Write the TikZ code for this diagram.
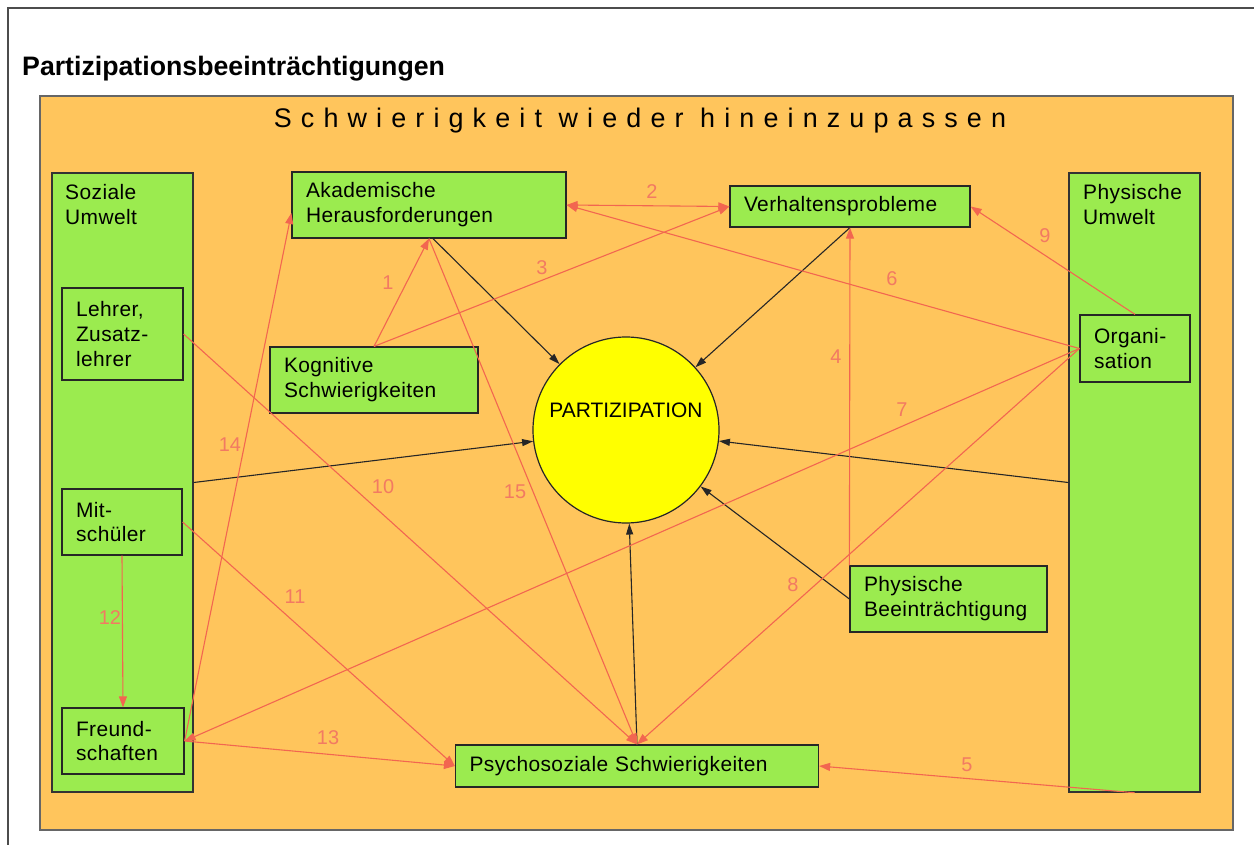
\documentclass[tikz,border=0pt]{standalone}
\usepackage{fontspec}
\setmainfont{Liberation Sans}
\usetikzlibrary{arrows.meta,calc}
\definecolor{orangebg}{HTML}{FFC55C}
\definecolor{greenbox}{HTML}{9BEB4F}
\definecolor{redline}{HTML}{F26650}
\definecolor{redlabel}{HTML}{F27A62}
\definecolor{yellowc}{HTML}{FFFF00}
\hyphenpenalty=10000
\begin{document}
\begin{tikzpicture}[x=1bp,y=-1bp,
  gbox/.style={draw=black!85, line width=1.2bp, fill=greenbox, inner xsep=14bp, inner ysep=0bp,
    align=left, font=\fontsize{21}{25}\selectfont\addfontfeature{LetterSpace=2}},
  bigbox/.style={draw=black!80, line width=1.4bp, fill=greenbox, inner sep=0bp},
  boxtext/.style={inner sep=0bp, align=left, anchor=north west, font=\fontsize{21}{25}\selectfont\addfontfeature{LetterSpace=2}},
  redarrow/.style={draw=redline, line width=1.1bp, -{Triangle[length=11bp,width=8bp]}},
  blackarrow/.style={draw=black!85, line width=1.1bp, -{Triangle[length=11bp,width=7bp]}},
  num/.style={text=redlabel, font=\fontsize{20}{24}\selectfont, inner sep=0bp}
]
\useasboundingbox (0,0) rectangle (1254,845);
% outer frame
\draw[black!70, line width=1.5bp] (8,845) -- (8,8) -- (1254,8);
\node[anchor=base west, inner sep=0bp, font=\fontsize{26.8}{30}\selectfont\bfseries] (title) at (22,75) {Partizipationsbeeinträchtigungen};
% orange area
\node[draw=black!60, line width=1.5bp, fill=orangebg, minimum width=1193bp, minimum height=734bp, inner sep=0bp] (bg) at (636.5,463) {};
\node[inner sep=0bp, font=\fontsize{27}{30}\selectfont\addfontfeature{LetterSpace=34}] (head) at (640,121) {Schwierigkeit wieder hineinzupassen};
% big boxes
\node[bigbox, minimum width=141bp, minimum height=619bp] (soz) at (122.5,482.5) {};
\node[boxtext] (sozt) at (65,184) {Soziale\\Umwelt};
\node[bigbox, minimum width=131bp, minimum height=619bp] (pum) at (1134.5,482.5) {};
\node[boxtext] (pumt) at (1083,184) {Physische\\Umwelt};
% small boxes
\node[gbox, text width=246bp, minimum height=66bp] (akad) at (429,205) {Akademische\\Herausforderungen};
\node[gbox, text width=212bp, minimum height=41bp] (verh) at (850,206.5) {Verhaltensprobleme};
\node[gbox, text width=180bp, minimum height=66bp] (kogn) at (374,380) {Kognitive\\Schwierigkeiten};
\node[gbox, text width=93bp, minimum height=92bp] (lehrer) at (122.5,334) {Lehrer,\\Zusatz-\\lehrer};
\node[gbox, text width=92bp, minimum height=66bp] (mit) at (122,522) {Mit-\\schüler};
\node[gbox, text width=94bp, minimum height=66bp] (freund) at (123,741) {Freund-\\schaften};
\node[gbox, text width=82bp, minimum height=67bp] (org) at (1135,348.5) {Organi-\\sation};
\node[gbox, text width=169bp, minimum height=66bp] (phb) at (948.5,599) {Physische\\Beeinträchtigung};
\node[gbox, text width=335bp, minimum height=42bp] (psy) at (637,766) {Psychosoziale Schwierigkeiten};
% circle
\node[circle, draw=black!85, line width=1.2bp, fill=yellowc, minimum size=186bp, inner sep=0bp] (part) at (626,430) {};
\node[inner sep=0bp, font=\fontsize{21}{25}\selectfont] (partt) at (626,410) {PARTIZIPATION};
% black arrows
\draw[blackarrow] ($(akad.south)+(4,0)$) -- (part);
\draw[blackarrow] (verh.south) -- (part);
\draw[blackarrow] (soz.east) -- (part);
\draw[blackarrow] (pum.west) -- (part);
\draw[blackarrow] (phb.west) -- (part);
\draw[blackarrow] (psy.north) -- (part);
% red arrows
\draw[redarrow] (kogn.north) -- (akad.south);
\draw[redarrow, {Triangle[length=11bp,width=8bp]}-{Triangle[length=11bp,width=8bp]}] (akad.east) -- (verh.west);
\draw[redarrow] (kogn.north) -- (verh.west);
\draw[redarrow] (phb.north west) -- (verh.south);
\draw[redarrow] (pum.south) -- (psy.east);
\draw[redarrow] (org.west) -- (akad.east);
\draw[redarrow] (org.west) -- (freund.east);
\draw[redarrow] (org.west) -- (psy.north);
\draw[redarrow] (org.north) -- (verh.east);
\draw[redarrow] (lehrer.east) -- (psy.north);
\draw[redarrow] (mit.east) -- (psy.west);
\draw[redarrow] (mit.south) -- (freund.north);
\draw[redarrow] (freund.east) -- (psy.west);
\draw[redarrow] (freund.east) -- ($(akad.west)+(0,8)$);
\draw[redarrow] (akad.south) -- (psy.north);
% labels
\node[num] (n1) at (388,283) {1};
\node[num] (n2) at (652,192) {2};
\node[num] (n3) at (542,268) {3};
\node[num] (n4) at (836,357) {4};
\node[num] (n5) at (967,765) {5};
\node[num] (n6) at (892,279) {6};
\node[num] (n7) at (902,410) {7};
\node[num] (n8) at (793,585) {8};
\node[num] (n9) at (1045,236) {9};
\node[num] (n10) at (383,487) {10};
\node[num] (n11) at (295,597) {11};
\node[num] (n12) at (110,618) {12};
\node[num] (n13) at (328,738) {13};
\node[num] (n14) at (230,445) {14};
\node[num] (n15) at (515,492) {15};
\end{tikzpicture}
\end{document}
